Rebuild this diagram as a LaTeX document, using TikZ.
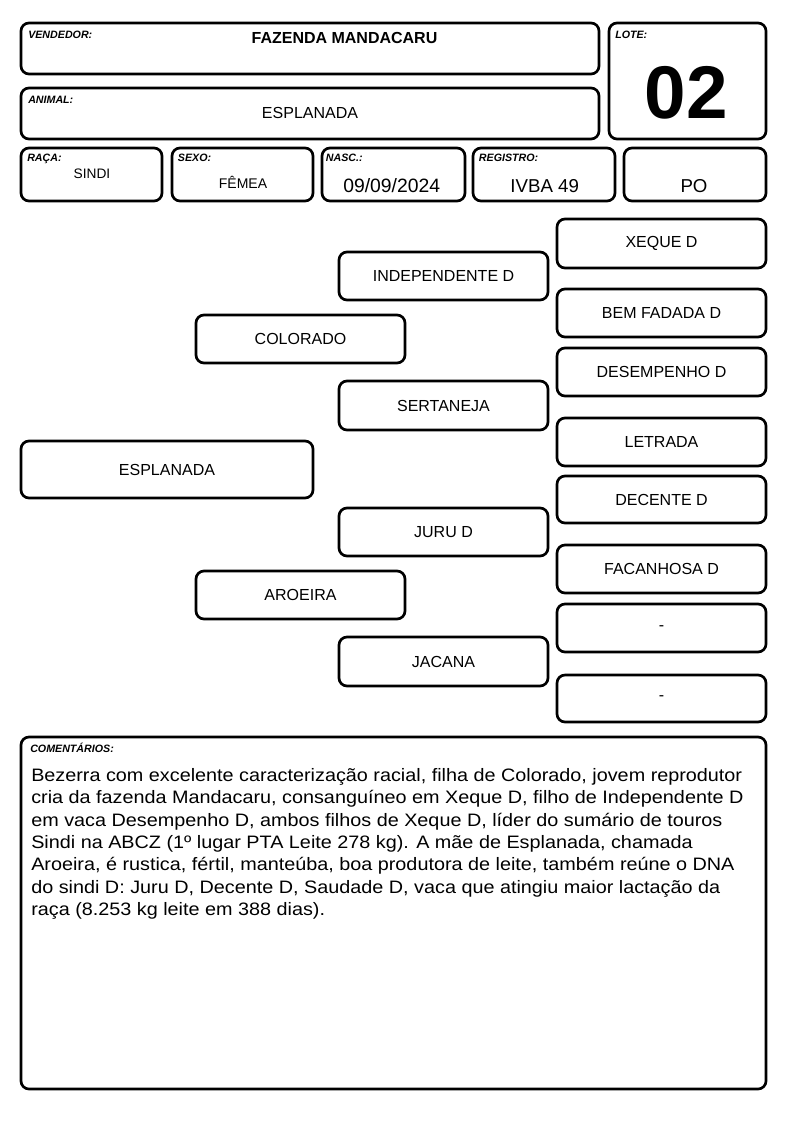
\documentclass[tikz,border=0pt]{standalone}
\usepackage{fontspec}
\setmainfont{Liberation Sans}
\tikzset{
  pbox/.style={draw, line width=2pt, rounded corners=6pt, inner sep=0pt, fill=white},
  lbl/.style={anchor=base west, inner sep=0pt, font=\fontsize{8}{9}\selectfont\bfseries\itshape},
  val/.style={anchor=base, inner sep=0pt, font=\fontsize{14}{16}\selectfont},
  ped/.style={pbox, font=\fontsize{12}{14}\selectfont}
}
\newcommand\pbx[6]{\node[ped, minimum width={(#4-#2)*0.75pt}, minimum height={(#5-#3)*0.75pt}] (#1) at ({(#2+#4)/2},{(#3+#5)/2}) {#6};}
\begin{document}
\begin{tikzpicture}[x=0.75pt,y=-0.75pt]
\useasboundingbox[fill=white] (0,0) rectangle (794,1123);
% header boxes
\pbx{vend}{21}{23}{599}{74}{}
\pbx{anim}{21}{88}{599}{139}{}
\pbx{lote}{609}{23}{766}{139}{}
\pbx{raca}{21}{148}{162}{201}{}
\pbx{sexo}{172}{148}{313}{201}{}
\pbx{nasc}{322}{148}{465}{201}{}
\pbx{regi}{473}{148}{615}{201}{}
\pbx{po}{624}{148}{766}{201}{}
\node[lbl] (lvend) at (28,39) {VENDEDOR:};
\node[anchor=base, inner sep=0pt, font=\fontsize{12}{14}\selectfont\bfseries] (tvend) at (344.5,43.3) {FAZENDA MANDACARU};
\node[lbl] (lanim) at (28,103.3) {ANIMAL:};
\node[anchor=base, inner sep=0pt, font=\fontsize{12}{14}\selectfont] (tanim) at (310,119) {ESPLANADA};
\node[lbl] (llote) at (615,38.3) {LOTE:};
\node[anchor=base, inner sep=0pt, font=\fontsize{56}{60}\selectfont\bfseries] (tlote) at (686.5,119) {02};
\node[lbl] (lraca) at (27,162) {RAÇA:};
\node[anchor=base, inner sep=0pt, font=\fontsize{10.3}{12}\selectfont] (traca) at (92,178.3) {SINDI};
\node[lbl] (lsexo) at (177.7,162) {SEXO:};
\node[anchor=base, inner sep=0pt, font=\fontsize{10.5}{12}\selectfont] (tsexo) at (243,189) {FÊMEA};
\node[lbl] (lnasc) at (325.7,162) {NASC.:};
\node[val, font=\fontsize{14.5}{16}\selectfont] (tnasc) at (391.7,192.7) {09/09/2024};
\node[lbl] (lregi) at (478.7,162) {REGISTRO:};
\node[val] (tregi) at (544.7,192.7) {IVBA 49};
\node[val] (tpo) at (694,192.7) {PO};
% pedigree
\pbx{esp}{21}{441}{313}{498}{ESPLANADA}
\pbx{col}{196}{315}{405}{363}{COLORADO}
\pbx{aro}{196}{571}{405}{619}{AROEIRA}
\pbx{ind}{339}{252}{548}{300}{INDEPENDENTE D}
\pbx{ser}{339}{381}{548}{430}{SERTANEJA}
\pbx{jur}{339}{508}{548}{556}{JURU D}
\pbx{jac}{339}{637}{548}{686}{JACANA}
\pbx{xeq}{557}{219}{766}{268}{XEQUE D}
\pbx{bem}{557}{289}{766}{337}{BEM FADADA D}
\pbx{des}{557}{348}{766}{396}{DESEMPENHO D}
\pbx{let}{557}{418}{766}{466}{LETRADA}
\pbx{dec}{557}{476}{766}{523}{DECENTE D}
\pbx{fac}{557}{545}{766}{593}{FACANHOSA D}
\pbx{na1}{557}{604}{766}{652}{-}
\pbx{na2}{557}{675}{766}{722}{-}
% comments
\pbx{com}{21}{737}{766}{1089}{}
\node[lbl] (lcom) at (30,752) {COMENTÁRIOS:};
\node[anchor=north west, inner sep=0pt, font=\fontsize{13.5}{16.8}\selectfont] (tcom) at (31,765.3) {\scalebox{1.1}[1]{\begin{tabular}{@{}l@{}}Bezerra com excelente caracterização racial, filha de Colorado, jovem reprodutor\\
cria da fazenda Mandacaru, consanguíneo em Xeque D, filho de Independente D\\
em vaca Desempenho D, ambos filhos de Xeque D, líder do sumário de touros\\
Sindi na ABCZ (1º lugar PTA Leite 278 kg). A mãe de Esplanada, chamada\\
Aroeira, é rustica, fértil, manteúba, boa produtora de leite, também reúne o DNA\\
do sindi D: Juru D, Decente D, Saudade D, vaca que atingiu maior lactação da\\
raça (8.253 kg leite em 388 dias).\end{tabular}}};
\end{tikzpicture}
\end{document}
